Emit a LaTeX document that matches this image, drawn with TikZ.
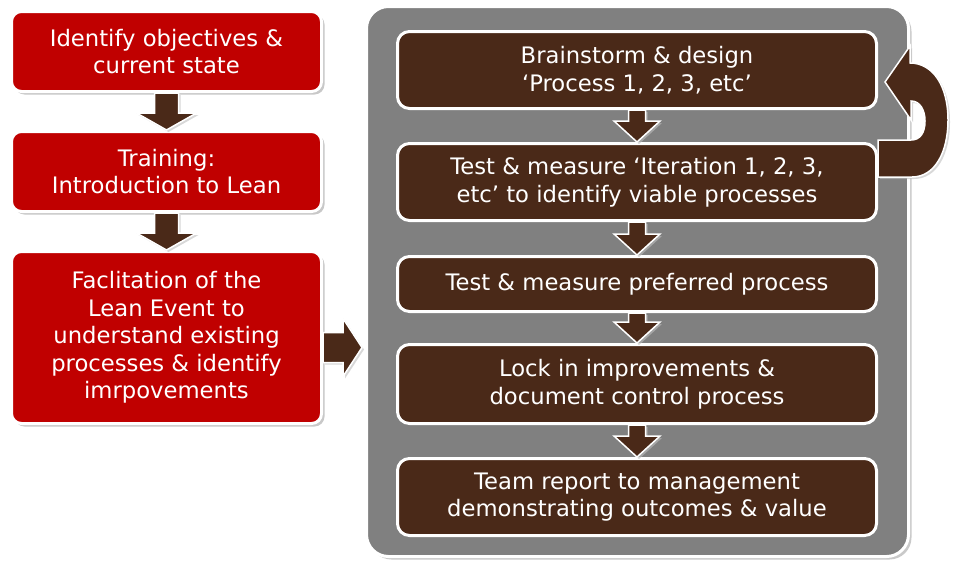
\documentclass[tikz,border=0pt]{standalone}
\usepackage{fontspec}
\setmainfont{DejaVu Sans}
\usetikzlibrary{calc,shadows}

\definecolor{leanred}{RGB}{192,0,0}
\definecolor{leanbrown}{RGB}{74,41,24}
\definecolor{panelgray}{RGB}{128,128,128}

\tikzset{
  stage/.style={draw=white, line width=3pt, text=white, align=center, inner sep=0pt,
    font=\fontsize{22.7}{27.5}\selectfont},
  redstage/.style={stage, fill=leanred, rounded corners=10pt, minimum width=310pt,
    drop shadow={shadow xshift=3pt, shadow yshift=-3pt, fill=black!30, opacity=0.7}},
  brownstage/.style={stage, fill=leanbrown, rounded corners=12pt, minimum width=479pt},
  panel/.style={fill=panelgray, draw=white, line width=3pt, rounded corners=22pt,
    minimum width=542pt, minimum height=550pt,
    drop shadow={shadow xshift=3pt, shadow yshift=-3pt, fill=black!35, opacity=0.6}},
  blockarrow/.style={fill=leanbrown, draw=white, line width=1.5pt, line join=miter,
    drop shadow={shadow xshift=2pt, shadow yshift=-2pt, fill=black!25, opacity=0.6}}
}

% block arrow: from, tip, half shaft, half head, head length
\newcommand{\stepdown}[5]{%
  \path[blockarrow] ($(#1)+(-#3,0)$) -- ($(#2)+(-#3,-#5)$) -- ($(#2)+(-#4,-#5)$) -- (#2)
    -- ($(#2)+(#4,-#5)$) -- ($(#2)+(#3,-#5)$) -- ($(#1)+(#3,0)$) -- cycle;}
\newcommand{\stepright}[5]{%
  \path[blockarrow] ($(#1)+(0,-#3)$) -- ($(#2)+(-#5,-#3)$) -- ($(#2)+(-#5,-#4)$) -- (#2)
    -- ($(#2)+(-#5,#4)$) -- ($(#2)+(-#5,#3)$) -- ($(#1)+(0,#3)$) -- cycle;}

\begin{document}
\begin{tikzpicture}[x=1pt,y=-1pt]
  \fill[white] (0,0) rectangle (955,562);

  \node[redstage, minimum height=80pt] (obj) at (166.5,51.5) {Identify objectives \&\\current state};
  \node[redstage, minimum height=80pt] (train) at (166.5,171.5) {Training:\\Introduction to Lean};
  \node[redstage, minimum height=172pt] (lean) at (166.5,337.5)
    {Faclitation of the\\Lean Event to\\understand existing\\processes \& identify\\imrpovements};

  \stepdown{obj.south}{train.north}{12}{30}{17}
  \stepdown{train.south}{lean.north}{12}{30}{17}

  \node[panel] (panel) at (637.5,281.5) {};

  \coordinate (a3) at ($(lean.east)+(0,10)$);
  \coordinate (p3) at ($(a3 -| panel.west)+(-3,0)$);
  \stepright{a3}{p3}{15}{29}{19}

  \node[brownstage, minimum height=77pt] (brain) at (637,70) {Brainstorm \& design\\‘Process 1, 2, 3, etc’};
  \node[brownstage, minimum height=77pt] (iter) at (637,182)
    {Test \& measure ‘Iteration 1, 2, 3,\\etc’ to identify viable processes};
  \node[brownstage, minimum height=55pt] (pref) at (637,284) {Test \& measure preferred process};
  \node[brownstage, minimum height=79pt] (lock) at (637,384) {Lock in improvements \&\\document control process};
  \node[brownstage, minimum height=77pt] (report) at (637,497)
    {Team report to management\\demonstrating outcomes \& value};

  \stepdown{brain.south}{iter.north}{8.5}{23}{21}
  \stepdown{iter.south}{pref.north}{8.5}{23}{21}
  \stepdown{pref.south}{lock.north}{8.5}{23}{21}
  \stepdown{lock.south}{report.north}{8.5}{23}{21}

  % loop back from the iterations to the brainstorm
  \path[blockarrow, shift={(iter.east)}] (0,-5) -- (34,-5)
    .. controls (57,-5) and (70,-30) .. (70,-62)
    .. controls (70,-96) and (55,-119) .. (32,-119)
    -- (32,-136) -- ($(brain.east)+(7,12)-(iter.east)$) -- (33,-62) -- (33,-81)
    .. controls (42,-81) and (47,-72) .. (47,-61)
    .. controls (47,-49) and (42,-42) .. (33,-42)
    -- (0,-42) -- cycle;
\end{tikzpicture}
\end{document}
